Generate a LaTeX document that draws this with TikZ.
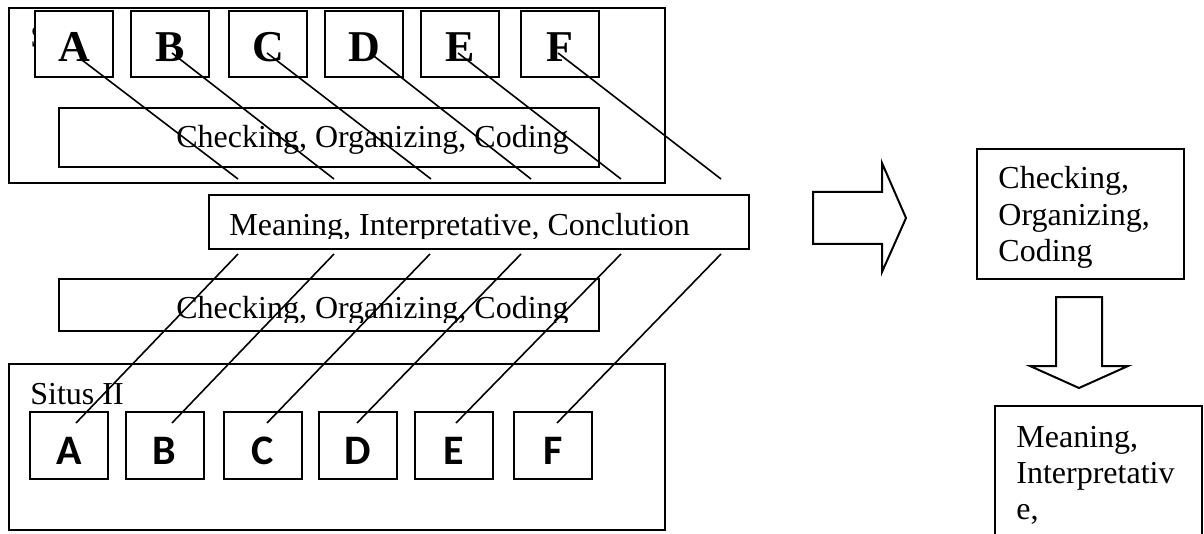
\documentclass[tikz,border=0pt]{standalone}
\usepackage{fontspec}
\setmainfont{Liberation Serif}
\newfontfamily\letterfont{Carlito}
\usetikzlibrary{calc}
\begin{document}
\begin{tikzpicture}[x=0.5pt,y=-0.5pt,
  frame/.style 2 args={draw, line width=1pt, fill=white, inner sep=0pt,
    minimum width=#1*0.5pt, minimum height=#2*0.5pt},
  txt/.style={anchor=base west, inner sep=0pt, font=\fontsize{16}{19}\selectfont},
  serifletter/.style={inner sep=0pt, font=\fontsize{22}{24}\selectfont\bfseries},
  sansletter/.style={inner sep=0pt, font=\fontsize{21}{24}\selectfont\letterfont\bfseries},
  link/.style={line width=0.8pt},
  blockarrow/.style={draw, line width=1pt, fill=white, line join=miter}
]
\useasboundingbox (0,0) rectangle (1204,534);

% ---- Situs I ----
\node[frame={656}{175}] (situsA) at (337,95.5) {};
\node[txt] (situsAlabel) at (30,48) {Situs I};
\foreach \n/\x in {A/74,B/170,C/268,D/364,E/460,F/560}{
  \node[frame={78}{66}] (t\n) at (\x,44) {};
  \node[serifletter] (t\n l) at (\x,47) {\n};
}
\node[frame={540}{59}] (checkA) at (329,137.5) {};
\node[txt] (checkAtext) at (176,148) {Checking, Organizing, Coding};

% ---- shared result ----
\node[frame={540}{54}] (meaning) at (479,222) {};
\begin{scope}
  \clip (209,195) rectangle (749,239);
  \node[txt] (meaningtext) at (229,235) {Meaning, Interpretative, Conclution};
\end{scope}

\node[frame={540}{52}] (checkB) at (329,305) {};
\begin{scope}
  \clip (59,279) rectangle (599,322);
  \node[txt] (checkBtext) at (176,318) {Checking, Organizing, Coding};
\end{scope}

% ---- Situs II ----
\node[frame={656}{166}] (situsB) at (337,447) {};
\node[txt] (situsBlabel) at (30,404) {Situs II};
\foreach \n/\x in {A/69,B/164.5,C/262.5,D/358,E/454,F/553}{
  \node[frame={78}{67}] (b\n) at (\x,445.5) {};
  \node[sansletter] (b\n l) at (\x,450.5) {\n};
}

% ---- connectors ----
\foreach \n/\sx/\sy/\ex in {A/82/60/238, B/172/53/334, C/267/53/431,
                           D/370/53/531, E/458/53/621, F/558/53/721}{
  \coordinate (ts\n) at (\sx,\sy);
  \coordinate (te\n) at (\ex,179);
  \draw[link] (ts\n) -- (te\n);
}
\foreach \n/\sx/\ex in {A/238/76, B/334/172, C/430/267,
                        D/521/357, E/621/456, F/721/557}{
  \coordinate (bs\n) at (\sx,254);
  \coordinate (be\n) at (\ex,423);
  \draw[link] (bs\n) -- (be\n);
}

% ---- summary column ----
\draw[blockarrow] (813,192) -- (882,192) -- (882,163) -- (906,218)
  -- (882,272) -- (882,244) -- (813,244) -- cycle;

\node[frame={207}{130}] (stepone) at (1080.5,214) {};
\node[txt] (steponeA) at (998,189) {Checking,};
\node[txt] (steponeB) at (998,226) {Organizing,};
\node[txt] (steponeC) at (998,262) {Coding};

\draw[blockarrow] (1056,297) -- (1102,297) -- (1102,366) -- (1128,366)
  -- (1079,388) -- (1030,366) -- (1056,366) -- cycle;

\node[frame={207}{160}] (steptwo) at (1098.5,486) {};
\node[txt] (steptwoA) at (1016,447) {Meaning,};
\node[txt] (steptwoB) at (1016,483) {Interpretativ};
\node[txt] (steptwoC) at (1016,519) {e,};
\end{tikzpicture}
\end{document}
